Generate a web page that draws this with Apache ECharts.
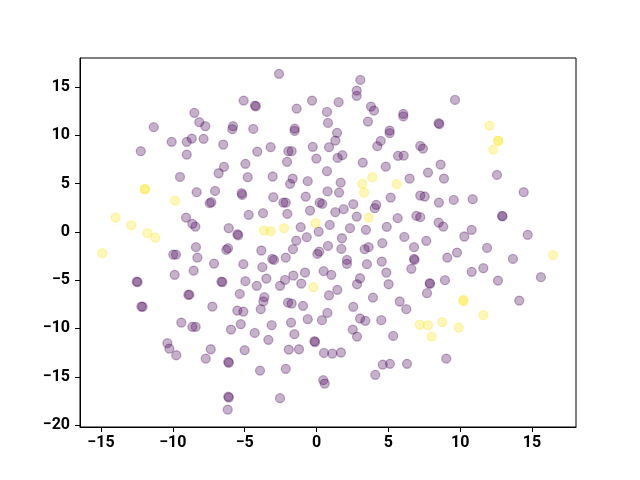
<!DOCTYPE html>
<html lang="en">
<head>
    <meta charset="UTF-8">
    <title>Scatter</title>
    <script src="https://cdn.jsdelivr.net/npm/echarts@6/dist/echarts.min.js"></script>
    <style>
        html, body { margin: 0; padding: 0; background: #fff; }
    </style>
</head>
<body>
    <div id="chart" style="width: 640px; height: 480px;"></div>
    <script>
        // data
        var purpleX = [
            -8.50, -8.16, -7.74, -11.33, -10.08, -9.03, -8.68, -7.86, -12.23, -9.03, -9.50,
            -2.61, -5.07, -4.28, -4.22, -1.38, -0.31, 0.73, 0.80, -5.81, -5.86, -4.40, -1.52, -1.52,
            -6.49, -4.12, -3.19, -1.96, -1.73, -0.26, 0.87, -0.01, -2.05, -4.95, -6.44, -6.81,
            -4.79, -3.05, -1.66, -1.84, -0.61, 0.73,
            3.05, 2.80, 2.80, 1.54, 3.79, 4.00, 3.58, 6.04, 6.04, 8.50, 8.55, 9.64, 5.09, 5.09,
            1.43, 1.31, 4.47, 4.23, 7.22, 7.41, 1.47, 1.80, 5.67, 6.07, 3.22, 4.82, 8.64, 7.76,
            1.68, 6.48, 8.87, 12.56,
            -8.34, -9.08, -8.64, -8.43, -8.39, -8.29, -9.97, -9.78, -8.55, -9.87, -12.51, -12.45,
            -8.92, -8.85, -12.19, -12.10,
            -7.06, -5.21, -5.17, -7.43, -7.32, -3.01, -2.31, -2.14, -0.75, 0.22, 0.40, 0.77,
            -4.72, -3.72, -2.03, -0.45, -6.11, -5.51, -5.45, -1.10, 0.15, -1.41, -0.68, 0.80,
            0.19, 0.06, -6.28, -6.16, -3.84, -1.64, -3.08, -2.96, -2.14, -7.13, -5.09, -3.77,
            0.50, -0.80, -1.61, -2.19, -3.49, -4.95, -6.62, -6.55, -4.16, -2.54, -1.06, -5.34,
            -3.63, -3.70, 0.87,
            1.57, 5.16, 7.22, 7.53, 8.52, 2.56, 4.16, 4.05, 1.31, 1.89, 2.80, 5.65, 6.95, 7.22,
            8.50, 8.82, 0.92, 2.33, 3.44, 4.89, 6.11, 7.64, 1.77, 1.73, 3.35, 3.63, 4.58, 6.79,
            9.10, 2.12, 2.12, 3.51, 4.54, 6.79, 6.82, 6.60, 4.86, 1.03, 3.03, 2.82, 5.02, 7.88,
            7.90, 8.94, 1.45, 3.93, 7.69, 5.79,
            14.42, 9.55, 10.87, 12.91, 12.95, 10.80, 10.29, 14.70, 11.87, 9.78, 13.67, 10.80,
            11.61, 12.63, 15.62, 14.11,
            -9.41, -8.64, -8.41, -10.38, -10.24, -9.76,
            -7.25, -5.51, -5.09, -3.88, -1.98, -1.73, -0.94, -5.95, -5.27, -4.30, -3.12, -3.35,
            -1.77, -1.54, -0.61, 0.38, 0.76, -0.15, -0.10, -7.36, -5.00, -7.71, -1.93, -1.22,
            0.52, -6.14, -6.10, -3.93, -2.14, 0.47, 0.57, -6.14, -6.10, -6.18, -2.54,
            2.56, 6.25, 3.03, 3.40, 4.51, 2.52, 2.82, 5.34, 1.10, 1.70, 4.61, 5.11, 6.30, 9.03, 4.09
        ];
        var purpleY = [
            12.32, 11.36, 10.94, 10.84, 9.32, 9.32, 9.66, 9.63, 8.35, 8.00, 5.69,
            16.36, 13.59, 13.07, 13.00, 12.76, 13.59, 12.42, 11.28, 10.94, 10.63, 10.66, 10.69, 10.45,
            9.04, 8.31, 8.77, 8.35, 8.35, 8.80, 8.77, 7.59, 7.25, 7.04, 6.73, 6.07,
            5.66, 5.73, 5.52, 4.97, 5.25, 6.28,
            15.73, 14.63, 14.08, 13.43, 12.97, 12.56, 11.42, 12.22, 11.95, 11.25, 11.15, 13.66, 10.49, 10.22,
            10.25, 9.45, 9.42, 8.87, 8.90, 8.62, 7.66, 7.94, 7.87, 7.90, 7.17, 6.76, 6.97, 6.14,
            5.10, 5.52, 5.52, 5.90,
            4.11, 1.48, 0.83, 0.55, -1.58, -2.66, -2.35, -2.35, -4.01, -4.45, -5.14, -5.20,
            -6.52, -6.50, -7.73, -7.75,
            4.24, 4.00, 3.83, 2.97, 3.07, 3.59, 3.03, 3.03, 3.65, 3.03, 2.90, 4.19,
            1.76, 1.94, 1.86, 2.21, 0.38, -0.24, -0.35, 0.49, 0.03, -0.90, -0.55, -1.45,
            -2.04, -2.28, -1.86, -1.69, -1.93, -1.79, -2.80, -2.90, -2.66, -3.28, -3.34, -3.65,
            -4.07, -4.21, -4.52, -4.97, -4.83, -5.10, -5.14, -5.20, -5.59, -5.59, -5.35, -6.42,
            -6.76, -7.20, -6.57,
            4.07, 3.55, 3.76, 3.66, 3.03, 2.87, 2.80, 2.45, 2.04, 2.35, 1.58, 1.42, 1.66, 1.52,
            0.96, 0.55, 0.72, 0.38, 0.21, 0.52, -0.52, -0.93, -0.66, -1.76, -1.79, -1.58, -1.17, -1.58,
            -2.66, -2.90, -3.31, -3.34, -3.07, -2.80, -2.90, -3.83, -4.21, -4.45, -4.80, -5.42, -5.42, -5.31,
            -5.38, -5.00, -6.00, -6.80, -6.35, -7.21,
            4.11, 3.31, 3.38, 1.66, 1.60, 0.21, -0.48, -0.31, -1.66, -2.14, -2.80, -4.14,
            -3.76, -5.04, -4.69, -7.11,
            -9.39, -9.83, -9.83, -11.52, -12.08, -12.77,
            -7.73, -8.15, -8.25, -8.00, -7.32, -7.42, -7.66, -10.11, -9.56, -10.46, -9.66, -11.18,
            -9.39, -10.59, -9.04, -9.14, -8.39, -11.32, -11.40, -12.15, -12.25, -13.12, -12.18, -12.15,
            -12.53, -13.46, -13.55, -14.36, -14.18, -15.35, -15.70, -17.05, -17.15, -18.40, -17.22,
            -7.76, -8.00, -8.97, -9.21, -9.14, -10.11, -10.84, -10.77, -12.60, -12.49, -13.74, -13.66, -13.66, -13.12, -14.80
        ];
        var yellowX = [
            3.88, 3.19, 5.58, 3.31, 3.63, 12.03, 12.63, 12.66, 12.30,
            -11.96, -11.93, -9.85, -13.98, -12.89, -11.77, -11.22, -14.91,
            -3.65, -3.19, -2.26, -0.06, -0.22, 16.46, 10.22, 10.22,
            11.61, 9.90, 7.18, 7.76, 8.75, 8.02
        ];
        var yellowY = [
            5.66, 4.97, 4.94, 4.07, 1.48, 11.00, 9.45, 9.42, 8.52,
            4.45, 4.40, 3.24, 1.48, 0.69, -0.13, -0.59, -2.21,
            0.13, 0.07, 0.38, 0.90, -5.73, -2.41, -7.04, -7.16,
            -8.62, -9.91, -9.60, -9.66, -9.35, -10.84
        ];
        var xTicks = [-15, -10, -5, 0, 5, 10, 15];
        var yTicks = [-20, -15, -10, -5, 0, 5, 10, 15];

        function pairs(xs, ys) {
            return xs.map(function(x, i) { return [x, ys[i]]; });
        }
        function fmt(v) {
            return String(v).replace('-', '\u2212');
        }

        var chart = echarts.init(document.getElementById('chart'));

        var labelStyle = {
            fontFamily: 'Roboto',
            fontWeight: 'bold',
            fontSize: 16,
            color: '#000',
            formatter: fmt
        };

        var option = {
            animation: false,
            backgroundColor: '#fff',
            grid: {
                left: 80, right: 64, top: 58, bottom: 53,
                show: true,
                borderColor: '#000',
                borderWidth: 1
            },
            xAxis: {
                type: 'value',
                min: -16.46,
                max: 18.06,
                splitLine: { show: false },
                axisLine: { show: true, onZero: false, lineStyle: { color: '#000', width: 1 } },
                axisTick: { show: true, length: 5, customValues: xTicks, lineStyle: { color: '#000' } },
                axisLabel: Object.assign({ customValues: xTicks, margin: 8 }, labelStyle)
            },
            yAxis: {
                type: 'value',
                min: -20.2,
                max: 18.0,
                splitLine: { show: false },
                axisLine: { show: true, onZero: false, lineStyle: { color: '#000', width: 1 } },
                axisTick: { show: true, length: 5, customValues: yTicks, lineStyle: { color: '#000' } },
                axisLabel: Object.assign({ customValues: yTicks, margin: 10 }, labelStyle)
            },
            series: [
                {
                    type: 'scatter',
                    symbolSize: 9,
                    data: pairs(purpleX, purpleY),
                    itemStyle: {
                        color: 'rgba(68,1,84,0.38)',
                        borderColor: 'rgba(68,1,84,0.38)',
                        borderWidth: 1.3
                    }
                },
                {
                    type: 'scatter',
                    symbolSize: 9,
                    data: pairs(yellowX, yellowY),
                    itemStyle: {
                        color: 'rgba(253,231,37,0.4)',
                        borderColor: 'rgba(253,231,37,0.4)',
                        borderWidth: 1.3
                    }
                }
            ]
        };
        chart.setOption(option);
    </script>
</body>
</html>
